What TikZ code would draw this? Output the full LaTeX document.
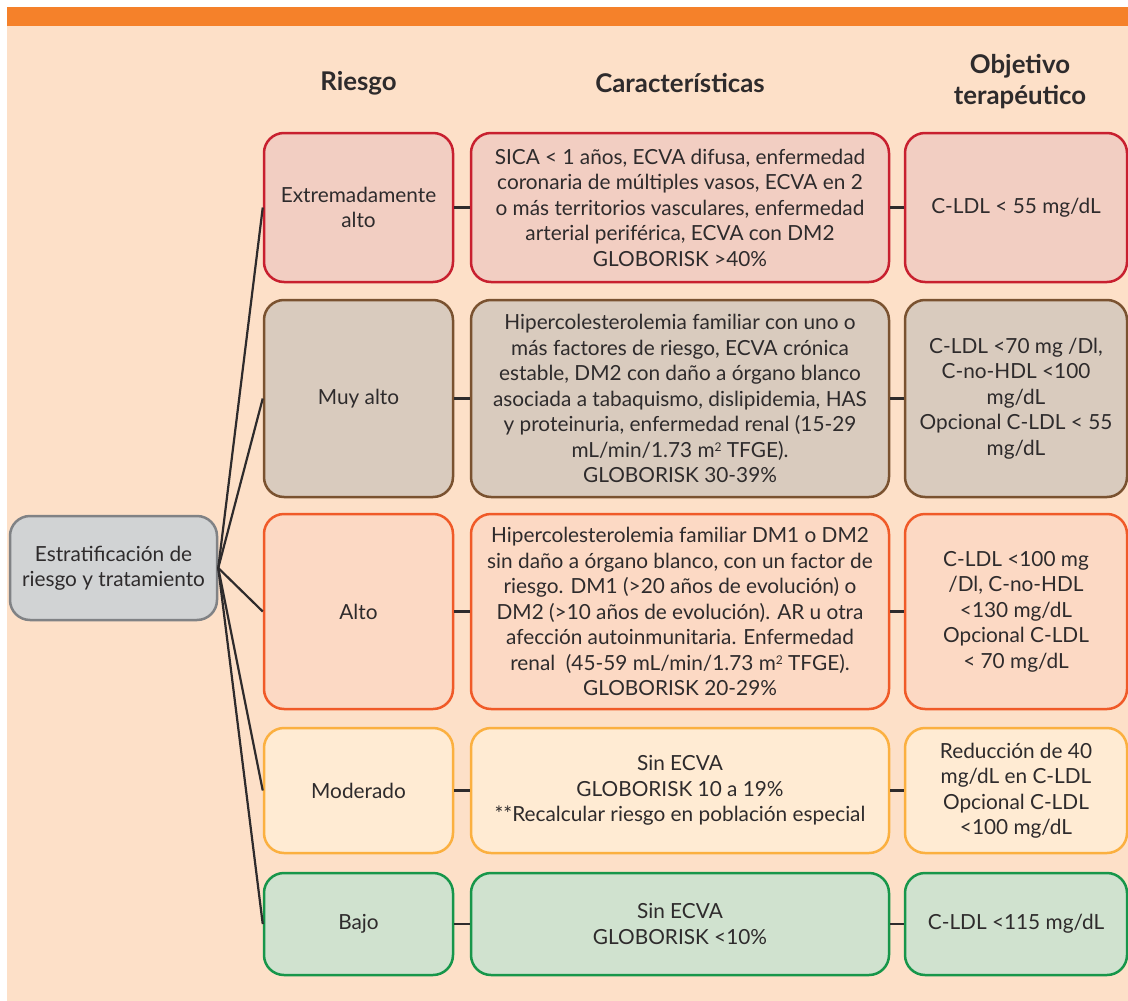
\documentclass[tikz,border=0pt]{standalone}
\usepackage{fontspec}
\setmainfont{Lato}
\usetikzlibrary{positioning}

\definecolor{pagebg}{HTML}{FDE0C8}
\definecolor{topbar}{HTML}{F5812A}
\definecolor{txtgray}{HTML}{2E2B2C}
\definecolor{redline}{HTML}{C8202F}
\definecolor{redfill}{HTML}{F2CEC2}
\definecolor{brownline}{HTML}{7A5230}
\definecolor{brownfill}{HTML}{D9CBBE}
\definecolor{orangeline}{HTML}{F05A28}
\definecolor{orangefill}{HTML}{FCD9C4}
\definecolor{yellowline}{HTML}{FBB040}
\definecolor{yellowfill}{HTML}{FFEBD3}
\definecolor{greenline}{HTML}{17964A}
\definecolor{greenfill}{HTML}{D0E2CF}
\definecolor{grayline}{HTML}{808285}
\definecolor{grayfill}{HTML}{D1D3D4}

\newcommand{\sqm}{m\raisebox{0.5ex}{\fontsize{12}{12}\selectfont 2}}

\begin{document}
\begin{tikzpicture}[x=1pt,y=-1pt,
  box/.style={rectangle, rounded corners=20pt, line width=2.5pt, align=center, inner sep=0pt, text=txtgray, font=\fontsize{20.8}{25.5}\selectfont},
  riskbox/.style={box, minimum width=189pt},
  featbox/.style={box, minimum width=418pt},
  goalbox/.style={box, minimum width=222pt},
  rowred/.style={draw=redline, fill=redfill},
  rowbrown/.style={draw=brownline, fill=brownfill},
  roworange/.style={draw=orangeline, fill=orangefill},
  rowyellow/.style={draw=yellowline, fill=yellowfill},
  rowgreen/.style={draw=greenline, fill=greenfill},
  link/.style={line width=2.2pt, draw=txtgray},
  head/.style={font=\fontsize{25.8}{31}\selectfont\bfseries, text=txtgray, align=center}]
\useasboundingbox (0,0) rectangle (1128,1001);
\fill[white] (0,0) rectangle (1128,1001);
\fill[pagebg] (7,26) rectangle (1128,1001);
\fill[topbar] (7,7) rectangle (1128,26);

% column titles
\node[head] (hriesgo) at (358.5,83) {Riesgo};
\node[head] (hcarac) at (680,83) {Características};
\node[head] (hobj) at (1020,82) {Objetivo\\terapéutico};

% root
\node[box, draw=grayline, fill=grayfill, minimum width=207pt, minimum height=104pt] (root) at (113.5,568) {Estratificación de\\riesgo y tratamiento};

% row 1
\node[riskbox, rowred, minimum height=149pt] (r1) at (358.5,207.5) {Extremadamente\\alto};
\node[featbox, rowred, minimum height=149pt] (c1) at (680,207.5) {SICA < 1 años, ECVA difusa, enfermedad\\coronaria de múltiples vasos, ECVA en 2\\o más territorios vasculares, enfermedad\\arterial periférica, ECVA con DM2\\GLOBORISK >40\%};
\node[goalbox, rowred, minimum height=149pt] (g1) at (1016,207.5) {C-LDL < 55 mg/dL};

% row 2
\node[riskbox, rowbrown, minimum height=197pt] (r2) at (358.5,398.5) {Muy alto};
\node[featbox, rowbrown, minimum height=197pt] (c2) at (680,398.5) {Hipercolesterolemia familiar con uno o\\más factores de riesgo, ECVA crónica\\estable, DM2 con daño a órgano blanco\\asociada a tabaquismo, dislipidemia, HAS\\y proteinuria, enfermedad renal (15-29\\mL/min/1.73 \sqm{} TFGE).\\GLOBORISK 30-39\%};
\node[goalbox, rowbrown, minimum height=197pt] (g2) at (1016,398.5) {C-LDL <70 mg /Dl,\\C-no-HDL <100\\mg/dL\\Opcional C-LDL < 55\\mg/dL};

% row 3
\node[riskbox, roworange, minimum height=195pt] (r3) at (358.5,611.5) {Alto};
\node[featbox, roworange, minimum height=195pt] (c3) at (680,611.5) {Hipercolesterolemia familiar DM1 o DM2\\sin daño a órgano blanco, con un factor de\\riesgo. DM1 (>20 años de evolución) o\\DM2 (>10 años de evolución). AR u otra\\afección autoinmunitaria. Enfermedad\\renal ~(45-59 mL/min/1.73 \sqm{} TFGE).\\GLOBORISK 20-29\%};
\node[goalbox, roworange, minimum height=195pt] (g3) at (1016,611.5) {C-LDL <100 mg\\/Dl, C-no-HDL\\<130 mg/dL\\Opcional C-LDL\\< 70 mg/dL};

% row 4
\node[riskbox, rowyellow, minimum height=125pt] (r4) at (358.5,790.5) {Moderado};
\node[featbox, rowyellow, minimum height=125pt] (c4) at (680,790.5) {Sin ECVA\\GLOBORISK 10 a 19\%\\**Recalcular riesgo en población especial};
\node[goalbox, rowyellow, minimum height=125pt] (g4) at (1016,790.5) {Reducción de 40\\mg/dL en C-LDL\\Opcional C-LDL\\<100 mg/dL};

% row 5
\node[riskbox, rowgreen, minimum height=102pt] (r5) at (358.5,924) {Bajo};
\node[featbox, rowgreen, minimum height=102pt] (c5) at (680,924) {Sin ECVA\\GLOBORISK <10\%};
\node[goalbox, rowgreen, minimum height=102pt] (g5) at (1016,924) {C-LDL <115 mg/dL};

% connectors
\draw[link] (root.east) -- (r1.west);
\draw[link] (root.east) -- (r2.west);
\draw[link] (root.east) -- (r3.west);
\draw[link] (root.east) -- (r4.west);
\draw[link] (root.east) -- (r5.west);
\draw[link] (r1.east) -- (c1.west);
\draw[link] (r2.east) -- (c2.west);
\draw[link] (r3.east) -- (c3.west);
\draw[link] (r4.east) -- (c4.west);
\draw[link] (r5.east) -- (c5.west);
\draw[link] (c1.east) -- (g1.west);
\draw[link] (c2.east) -- (g2.west);
\draw[link] (c3.east) -- (g3.west);
\draw[link] (c4.east) -- (g4.west);
\draw[link] (c5.east) -- (g5.west);
\end{tikzpicture}
\end{document}
